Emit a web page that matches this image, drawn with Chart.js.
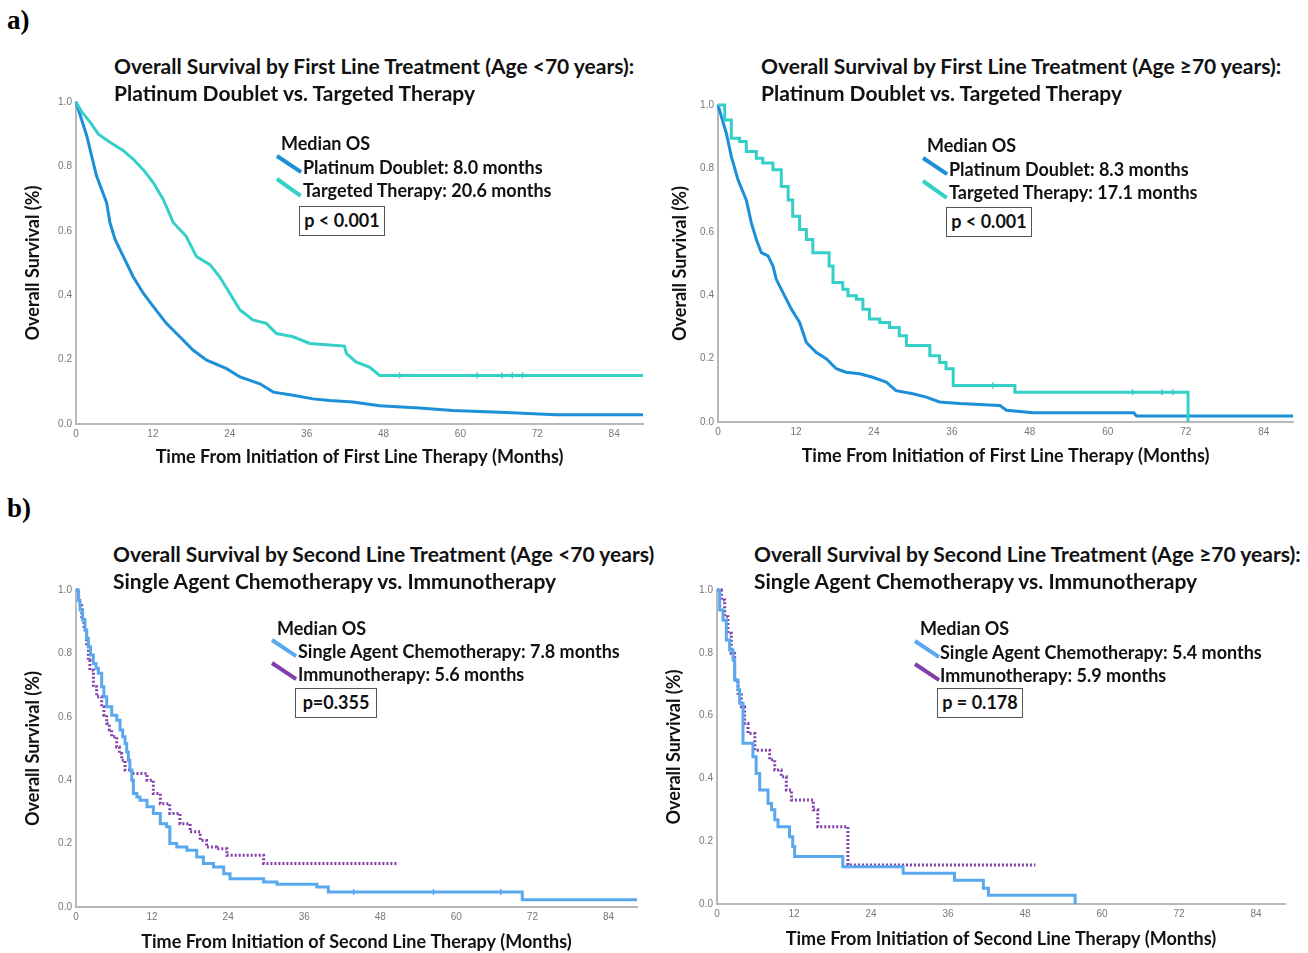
<!DOCTYPE html>
<html>
<head>
<meta charset="utf-8">
<script src="https://cdn.jsdelivr.net/npm/chart.js@4.4.1/dist/chart.umd.min.js"></script>
<style>
  body { margin: 0; background: #fff; width: 1308px; height: 953px; position: relative; overflow: hidden; font-family: Lato, "Open Sans", sans-serif; }
  canvas { position: absolute; }
  .t { position: absolute; font-weight: bold; color: #111; white-space: nowrap; line-height: 22px; transform: translateY(-50%); z-index: 2; }
  .box { position: absolute; border: 1.5px solid #555; background: #fff; box-sizing: border-box; font-weight: bold; color: #111; text-align: center; z-index: 2; }
  .sw { position: absolute; height: 4px; transform-origin: 0 50%; z-index: 2; }
  .lab { position: absolute; font-family: "Liberation Serif", serif; font-weight: bold; font-size: 27px; color: #000; }
</style>
</head>
<body>
<div class="lab" style="left:7px; top:5px;">a)</div>
<div class="lab" style="left:7px; top:493px;">b)</div>
<div id="texts"></div>
<canvas id="c1"></canvas>
<canvas id="c2"></canvas>
<canvas id="c3"></canvas>
<canvas id="c4"></canvas>
<script>
const xTicks = [0, 12, 24, 36, 48, 60, 72, 84];
const yTicks = [0, 0.2, 0.4, 0.6, 0.8, 1.0];
const xMax = 88.5;

const PLATINUM = '#1c8fd8';
const TARGETED = '#34d0c8';
const CHEMO = '#5aa8ee';
const IMMUNO = '#823fab';

// a) first line, age < 70
const platYoungT = [0, 1.66, 3.2, 4.78, 5.3, 6.1, 7.4, 8.9, 10.5, 12.05, 14.1, 16.2, 18.3, 20.4, 23.5, 25.6, 28.7, 30.8, 33.9, 37, 39.6, 43.2, 47.4, 53.6, 58.8, 67.1, 74.9, 88.5];
const platYoungS = [1.0, 0.896, 0.771, 0.6875, 0.625, 0.573, 0.52, 0.458, 0.406, 0.365, 0.3125, 0.271, 0.229, 0.198, 0.172, 0.146, 0.125, 0.099, 0.089, 0.078, 0.073, 0.068, 0.057, 0.05, 0.042, 0.036, 0.029, 0.029];
const targYoungT = [0, 0.9, 2.2, 3.5, 5.3, 7.4, 8.9, 10.5, 12.05, 13.6, 15.2, 17.2, 18.8, 20.9, 22.4, 24.0, 25.6, 27.6, 29.7, 31.3, 33.9, 36.5, 39.6, 41.9, 42.2, 43.7, 45.8, 47.4, 88.5];
const targYoungS = [1.0, 0.969, 0.9375, 0.90, 0.875, 0.849, 0.823, 0.79, 0.75, 0.698, 0.625, 0.583, 0.52, 0.495, 0.458, 0.406, 0.354, 0.323, 0.3125, 0.281, 0.271, 0.25, 0.245, 0.242, 0.219, 0.193, 0.177, 0.151, 0.151];
const targYoungCensT = [50.5, 62.6, 66.5, 68.1, 69.7];
const targYoungCensS = [0.151, 0.151, 0.151, 0.151, 0.151];

// a) first line, age >= 70
const platOldT = [0, 1.28, 2.05, 3.08, 4.36, 5.13, 5.9, 6.67, 7.7, 8.46, 8.97, 10.0, 11.3, 12.56, 13.6, 15.1, 16.7, 18.2, 19.7, 21.8, 23.8, 25.9, 27.4, 30, 32.05, 34.1, 37.2, 41.8, 43.4, 44.4, 48.5, 64.0, 64.4, 88.5];
const platOldS = [1.0, 0.911, 0.838, 0.764, 0.70, 0.628, 0.576, 0.534, 0.524, 0.492, 0.45, 0.408, 0.356, 0.314, 0.251, 0.22, 0.199, 0.168, 0.157, 0.152, 0.141, 0.126, 0.099, 0.089, 0.0785, 0.063, 0.058, 0.054, 0.052, 0.037, 0.029, 0.029, 0.019, 0.019];
const targOldT = [0, 1.03, 2.05, 3.33, 4.36, 5.9, 6.9, 8.46, 9.74, 10.8, 11.5, 12.56, 13.6, 14.6, 16.4, 17.1, 17.7, 19.2, 20, 21.3, 22.3, 23.3, 24.9, 26.4, 27.9, 29, 31.5, 32.6, 34.1, 35.1, 36.2, 45.7, 72.35];
const targOldS = [1.0, 0.953, 0.895, 0.885, 0.853, 0.832, 0.817, 0.796, 0.743, 0.70, 0.649, 0.607, 0.576, 0.534, 0.534, 0.492, 0.44, 0.419, 0.398, 0.387, 0.356, 0.325, 0.314, 0.298, 0.272, 0.241, 0.241, 0.209, 0.188, 0.168, 0.115, 0.094, 0];
const targOldCensT = [42.3, 63.8, 68.3, 70.0];
const targOldCensS = [0.115, 0.094, 0.094, 0.094];

// b) second line, age < 70
const chemoYoungT = [0, 0.37, 0.63, 1.05, 1.42, 1.68, 1.95, 2.3, 2.74, 3.16, 3.53, 4.05, 4.4, 4.84, 5.63, 6.42, 6.95, 7.37, 7.74, 8.0, 8.26, 8.5, 8.8, 9.05, 9.6, 10.1, 11.2, 12.2, 13.3, 14.3, 14.8, 15.9, 17.5, 19.05, 20.1, 21.7, 23.3, 24.3, 29.6, 31.7, 38, 39.8, 70.4, 88.5];
const chemoYoungS = [1.0, 0.968, 0.937, 0.905, 0.874, 0.847, 0.821, 0.795, 0.768, 0.753, 0.737, 0.695, 0.663, 0.632, 0.605, 0.589, 0.558, 0.537, 0.516, 0.489, 0.463, 0.432, 0.4, 0.358, 0.347, 0.337, 0.316, 0.295, 0.263, 0.253, 0.2, 0.189, 0.179, 0.158, 0.137, 0.126, 0.105, 0.089, 0.079, 0.072, 0.063, 0.047, 0.023, 0.023];
const chemoYoungCensT = [43.8, 56.4, 67.0];
const chemoYoungCensS = [0.047, 0.047, 0.047];
const immunoYoungT = [0, 0.42, 0.9, 1.26, 1.68, 1.95, 2.2, 2.74, 3.26, 4.05, 4.4, 4.84, 5.26, 5.63, 6.42, 6.84, 7.2, 7.74, 8.8, 11.2, 12.2, 13.3, 14.8, 16.4, 18, 19.6, 20.6, 22.2, 23.8, 29.6, 50.6];
const immunoYoungS = [1.0, 0.958, 0.916, 0.874, 0.821, 0.779, 0.747, 0.695, 0.663, 0.632, 0.605, 0.579, 0.558, 0.537, 0.505, 0.484, 0.463, 0.432, 0.421, 0.4, 0.358, 0.326, 0.295, 0.263, 0.237, 0.21, 0.189, 0.184, 0.163, 0.137, 0.137];

// b) second line, age >= 70
const chemoOldT = [0, 0.42, 0.94, 1.45, 1.97, 2.5, 2.75, 3.27, 3.53, 4.05, 5.6, 6.1, 6.65, 7.95, 8.5, 9.0, 9.5, 11.3, 11.8, 12.1, 19.6, 29, 37, 41.5, 42.3, 55.8];
const chemoOldS = [1.0, 0.936, 0.904, 0.841, 0.809, 0.777, 0.713, 0.682, 0.639, 0.512, 0.469, 0.416, 0.363, 0.32, 0.30, 0.268, 0.246, 0.214, 0.183, 0.151, 0.119, 0.098, 0.076, 0.05, 0.028, 0];
const immunoOldT = [0, 0.68, 1.2, 1.7, 2.23, 2.75, 3.27, 3.8, 4.3, 4.83, 5.9, 8.2, 9, 10, 10.8, 11.6, 15, 15.7, 20.4, 49.6];
const immunoOldS = [1.0, 0.968, 0.915, 0.862, 0.798, 0.713, 0.671, 0.628, 0.575, 0.543, 0.49, 0.459, 0.427, 0.405, 0.363, 0.331, 0.30, 0.246, 0.124, 0.124];

function pts(xs, ys) { return xs.map((x, i) => ({ x: x, y: ys[i] })); }

function curve(xs, ys, color, extra) {
    return Object.assign({
        data: pts(xs, ys), borderColor: color, borderWidth: 3, pointRadius: 0,
        fill: false, tension: 0, clip: 6
    }, extra || {});
}

function censor(xs, ys, color) {
    return {
        data: pts(xs, ys), showLine: false, pointStyle: 'line', rotation: 90,
        pointRadius: 3, borderColor: color, borderWidth: 1.5, clip: 6
    };
}

const panels = [
    { id: 'c1', left: 0, top: 90, w: 655, h: 385, area: { left: 76, top: 102, right: 643, bottom: 424 }, yTitleX: 33, xTitleY: 457,
      xTitle: 'Time From Initiation of First Line Therapy (Months)',
      datasets: [curve(targYoungT, targYoungS, TARGETED), curve(platYoungT, platYoungS, PLATINUM),
                 censor(targYoungCensT, targYoungCensS, TARGETED)] },
    { id: 'c2', left: 655, top: 90, w: 653, h: 385, area: { left: 718, top: 105, right: 1293, bottom: 422 }, yTitleX: 680, xTitleY: 456,
      xTitle: 'Time From Initiation of First Line Therapy (Months)',
      datasets: [curve(targOldT, targOldS, TARGETED, { stepped: true }), curve(platOldT, platOldS, PLATINUM),
                 censor(targOldCensT, targOldCensS, TARGETED)] },
    { id: 'c3', left: 0, top: 575, w: 655, h: 378, area: { left: 76, top: 590, right: 637, bottom: 907 }, yTitleX: 33, xTitleY: 942,
      xTitle: 'Time From Initiation of Second Line Therapy (Months)',
      datasets: [curve(chemoYoungT, chemoYoungS, CHEMO, { stepped: true }),
                 curve(immunoYoungT, immunoYoungS, IMMUNO, { stepped: true, borderDash: [2, 2] }),
                 censor(chemoYoungCensT, chemoYoungCensS, CHEMO)] },
    { id: 'c4', left: 655, top: 575, w: 653, h: 378, area: { left: 717, top: 590, right: 1285, bottom: 904 }, yTitleX: 674, xTitleY: 939,
      xTitle: 'Time From Initiation of Second Line Therapy (Months)',
      datasets: [curve(chemoOldT, chemoOldS, CHEMO, { stepped: true }),
                 curve(immunoOldT, immunoOldS, IMMUNO, { stepped: true, borderDash: [2, 2] })] }
];

const tickFont = { family: 'Liberation Sans', size: 10 };
const titleFont = { family: 'Lato', weight: 'bold', size: 18 };
const halfTitle = 18 * 1.2 / 2;

panels.forEach(p => {
    const cv = document.getElementById(p.id);
    cv.width = p.w; cv.height = p.h;
    cv.style.left = p.left + 'px'; cv.style.top = p.top + 'px';
    new Chart(cv, {
        type: 'line',
        data: { datasets: p.datasets },
        options: {
            responsive: false,
            animation: false,
            layout: { padding: { left: 0, top: p.area.top - p.top, right: p.left + p.w - p.area.right, bottom: 0 } },
            plugins: { legend: { display: false }, tooltip: { enabled: false } },
            scales: {
                x: {
                    type: 'linear', min: 0, max: xMax,
                    afterBuildTicks: s => { s.ticks = xTicks.map(v => ({ value: v })); },
                    afterFit: s => { s.height = p.top + p.h - p.area.bottom; },
                    grid: { display: false, drawTicks: false },
                    border: { color: '#b8b8b8', width: 2 },
                    ticks: { padding: 4, font: tickFont, color: '#777', maxRotation: 0, autoSkip: false },
                    title: { display: true, text: p.xTitle, font: titleFont, color: '#111',
                             padding: { top: 0, bottom: p.top + p.h - p.xTitleY - halfTitle } }
                },
                y: {
                    type: 'linear', min: 0, max: 1,
                    afterBuildTicks: s => { s.ticks = yTicks.map(v => ({ value: v })); },
                    afterFit: s => { s.width = p.area.left - p.left; },
                    grid: { display: false, drawTicks: false },
                    border: { color: '#b8b8b8', width: 2 },
                    ticks: { padding: 4, font: tickFont, color: '#777', callback: v => v.toFixed(1) },
                    title: { display: true, text: 'Overall Survival (%)', font: titleFont, color: '#111',
                             padding: { top: p.yTitleX - p.left - halfTitle, bottom: 0 } }
                }
            }
        }
    });
});

// titles, median OS legends and p-value boxes
const holder = document.getElementById('texts');
function txt(x, y, s, size) {
    const d = document.createElement('div');
    d.className = 't';
    d.style.left = x + 'px'; d.style.top = y + 'px'; d.style.fontSize = size + 'px';
    d.textContent = s;
    holder.appendChild(d);
}
function swatch(x1, y1, x2, y2, color) {
    const d = document.createElement('div');
    d.className = 'sw';
    const len = Math.hypot(x2 - x1, y2 - y1);
    d.style.left = x1 + 'px'; d.style.top = (y1 - 2) + 'px'; d.style.width = len + 'px';
    d.style.background = color;
    d.style.transform = 'rotate(' + Math.atan2(y2 - y1, x2 - x1) + 'rad)';
    holder.appendChild(d);
}
function pbox(x, y, w, h, s) {
    const d = document.createElement('div');
    d.className = 'box';
    d.style.left = x + 'px'; d.style.top = y + 'px'; d.style.width = w + 'px'; d.style.height = h + 'px';
    d.style.lineHeight = (h - 3) + 'px'; d.style.fontSize = '18px';
    d.textContent = s;
    holder.appendChild(d);
}

const TS = 21, LS = 18;
txt(114, 66, 'Overall Survival by First Line Treatment (Age <70 years):', TS);
txt(114, 93, 'Platinum Doublet vs. Targeted Therapy', TS);
txt(761, 66, 'Overall Survival by First Line Treatment (Age \u226570 years):', TS);
txt(761, 93, 'Platinum Doublet vs. Targeted Therapy', TS);
txt(113, 554, 'Overall Survival by Second Line Treatment (Age <70 years)', TS);
txt(113, 581, 'Single Agent Chemotherapy vs. Immunotherapy', TS);
txt(754, 554, 'Overall Survival by Second Line Treatment (Age \u226570 years):', TS);
txt(754, 581, 'Single Agent Chemotherapy vs. Immunotherapy', TS);

txt(281, 143, 'Median OS', LS);
swatch(277, 156, 301, 172, PLATINUM);
txt(303, 167, 'Platinum Doublet: 8.0 months', LS);
swatch(277, 179, 301, 196, TARGETED);
txt(303, 190, 'Targeted Therapy: 20.6 months', LS);
pbox(299, 206, 86, 30, 'p < 0.001');

txt(927, 145, 'Median OS', LS);
swatch(923, 158, 947, 174, PLATINUM);
txt(949, 169, 'Platinum Doublet: 8.3 months', LS);
swatch(923, 181, 947, 198, TARGETED);
txt(949, 192, 'Targeted Therapy: 17.1 months', LS);
pbox(946, 207, 86, 30, 'p < 0.001');

txt(277, 628, 'Median OS', LS);
swatch(272, 640, 296, 656, CHEMO);
txt(298, 651, 'Single Agent Chemotherapy: 7.8 months', LS);
swatch(272, 663, 296, 679, IMMUNO);
txt(298, 674, 'Immunotherapy: 5.6 months', LS);
pbox(295, 688, 82, 30, 'p=0.355');

txt(920, 628, 'Median OS', LS);
swatch(915, 641, 939, 657, CHEMO);
txt(940, 652, 'Single Agent Chemotherapy: 5.4 months', LS);
swatch(915, 664, 939, 680, IMMUNO);
txt(940, 675, 'Immunotherapy: 5.9 months', LS);
pbox(937, 688, 86, 30, 'p = 0.178');
</script>
</body>
</html>
